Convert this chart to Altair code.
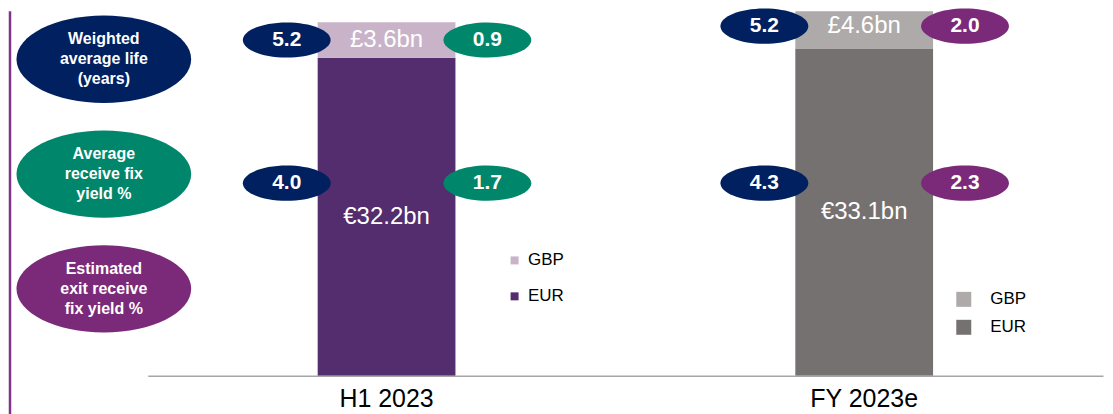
import altair as alt
import pandas as pd

# ---------------- data ----------------
categories = ["H1 2023", "FY 2023e"]
segments = ["GBP", "EUR"]
eur_bn = [32.2, 33.1]
gbp_bn = [3.6, 4.6]
wal_gbp = [5.2, 5.2]
wal_eur = [4.0, 4.3]
yield_gbp = [0.9, 2.0]
yield_eur = [1.7, 2.3]
yield_metric = ["Average receive fix yield %", "Estimated exit receive fix yield %"]
metrics = ["Weighted average life (years)", "Average receive fix yield %",
           "Estimated exit receive fix yield %"]
metric_text = ["Weighted\naverage life\n(years)", "Average\nreceive fix\nyield %",
               "Estimated\nexit receive\nfix yield %"]

# ---------------- style / layout ----------------
FONT = "Arial"
h1_colors = ["#C9B3C9", "#532D6D"]
fy_colors = ["#AEAAAA", "#767171"]
metric_colors = ["#002060", "#00866A", "#7B2A7A"]
line_color = "#7E3587"
W, H = 1099, 365
Y_MAX = 36.9
ROW2_LEVEL = 19.5
X_RANGE = [140, 1097]
ELLIPSE = "M-1,0A1,0.4,0,1,1,1,0A1,0.4,0,1,1,-1,0Z"
BIG_ELLIPSE = "M-1,0A1,0.5,0,1,1,1,0A1,0.5,0,1,1,-1,0Z"

# ---------------- tables ----------------
bar_rows = []
for i, c in enumerate(categories):
    bar_rows.append(dict(category=c, segment="EUR", lo=0.0, hi=eur_bn[i],
                         mid=eur_bn[i] / 2, label=f"€{eur_bn[i]}bn"))
    bar_rows.append(dict(category=c, segment="GBP", lo=eur_bn[i], hi=eur_bn[i] + gbp_bn[i],
                         mid=eur_bn[i] + gbp_bn[i] / 2, label=f"£{gbp_bn[i]}bn"))
bars_df = pd.DataFrame(bar_rows)

ell_rows = []
for i, c in enumerate(categories):
    top = eur_bn[i] + gbp_bn[i] / 2
    ell_rows.append(dict(category=c, side="left", metric=metrics[0], value=f"{wal_gbp[i]:.1f}", level=top))
    ell_rows.append(dict(category=c, side="left", metric=metrics[0], value=f"{wal_eur[i]:.1f}", level=ROW2_LEVEL))
    ell_rows.append(dict(category=c, side="right", metric=yield_metric[i], value=f"{yield_gbp[i]:.1f}", level=top))
    ell_rows.append(dict(category=c, side="right", metric=yield_metric[i], value=f"{yield_eur[i]:.1f}", level=ROW2_LEVEL))
ell_df = pd.DataFrame(ell_rows)

lab_df = pd.DataFrame({"metric": metrics, "text": metric_text})

# ---------------- encodings ----------------
x_enc = alt.X("category:N",
              scale=alt.Scale(domain=categories, range=X_RANGE, paddingInner=0, paddingOuter=0),
              axis=alt.Axis(title=None, labelAngle=0, labelFontSize=25, labelFont=FONT,
                            labelColor="black", ticks=False, tickSize=0, labelPadding=11,
                            domainColor="#A6A6A6", domainWidth=1.5, grid=False))
y_scale = alt.Scale(domain=[0, Y_MAX], nice=False, zero=True)
metric_scale = alt.Scale(domain=metrics, range=metric_colors)


def bar_layer(cat, colors, lx, ly, sym, offset, rowpad):
    return alt.Chart(bars_df).transform_filter(alt.datum.category == cat).mark_bar(
        size=138, clip=True).encode(
        x=x_enc,
        y=alt.Y("lo:Q", scale=y_scale, axis=None),
        y2="hi:Q",
        color=alt.Color("segment:N", scale=alt.Scale(domain=segments, range=colors),
                        legend=alt.Legend(orient="none", legendX=lx, legendY=ly, title=None,
                                          symbolType="square", symbolSize=sym, symbolStrokeWidth=0,
                                          labelFontSize=17, labelFont=FONT, labelColor="black",
                                          labelOffset=offset, rowPadding=rowpad, padding=0)),
    )


bars_h1 = bar_layer(categories[0], h1_colors, 499, 241, 64, 5, 18)
bars_fy = bar_layer(categories[1], fy_colors, 949, 280, 225, 18, 10)

bar_text = alt.Chart(bars_df).mark_text(color="white", fontSize=24, font=FONT, baseline="middle").encode(
    x=x_enc, y=alt.Y("mid:Q", scale=y_scale, axis=None), text="label:N")


def ellipse_layers(side, dx):
    base = alt.Chart(ell_df).transform_filter(alt.datum.side == side)
    e = base.mark_point(shape=ELLIPSE, size=88 * 88, filled=True, opacity=1, strokeWidth=0,
                        xOffset=dx).encode(
        x=x_enc, y=alt.Y("level:Q", scale=y_scale, axis=None),
        color=alt.Color("metric:N", scale=metric_scale, legend=None))
    t = base.mark_text(dx=dx, color="white", fontSize=21, fontWeight="bold", font=FONT,
                       baseline="middle").encode(
        x=x_enc, y=alt.Y("level:Q", scale=y_scale, axis=None), text="value:N")
    return [e, t]


left_ell = ellipse_layers("left", -100)
right_ell = ellipse_layers("right", 101)

lab_y = alt.Y("metric:N", scale=alt.Scale(type="point", domain=metrics, range=[48, 278], padding=0),
              axis=None)
lab_ell = alt.Chart(lab_df).mark_point(shape=BIG_ELLIPSE, size=175 * 175, filled=True, opacity=1,
                                       strokeWidth=0).encode(
    x=alt.value(96), y=lab_y, color=alt.Color("metric:N", scale=metric_scale, legend=None))
lab_txt = alt.Chart(lab_df).mark_text(color="white", fontSize=16, fontWeight="bold", font=FONT,
                                      lineBreak="\n", lineHeight=20, baseline="middle",
                                      dy=-20).encode(
    x=alt.value(96), y=lab_y, text="text:N")

vline = alt.Chart(lab_df.head(1)).mark_rule(color=line_color, strokeWidth=2.5).encode(
    x=alt.value(2), y=alt.value(0), y2=alt.value(410))

chart = alt.layer(
    vline, bars_h1, bars_fy, bar_text, *left_ell, *right_ell, lab_ell, lab_txt
).resolve_scale(y="independent", color="independent").properties(
    width=W, height=H, padding=0, background="white"
).configure_view(strokeWidth=0)

chart.save("out.html", embed_options={"renderer": "svg", "actions": False})
